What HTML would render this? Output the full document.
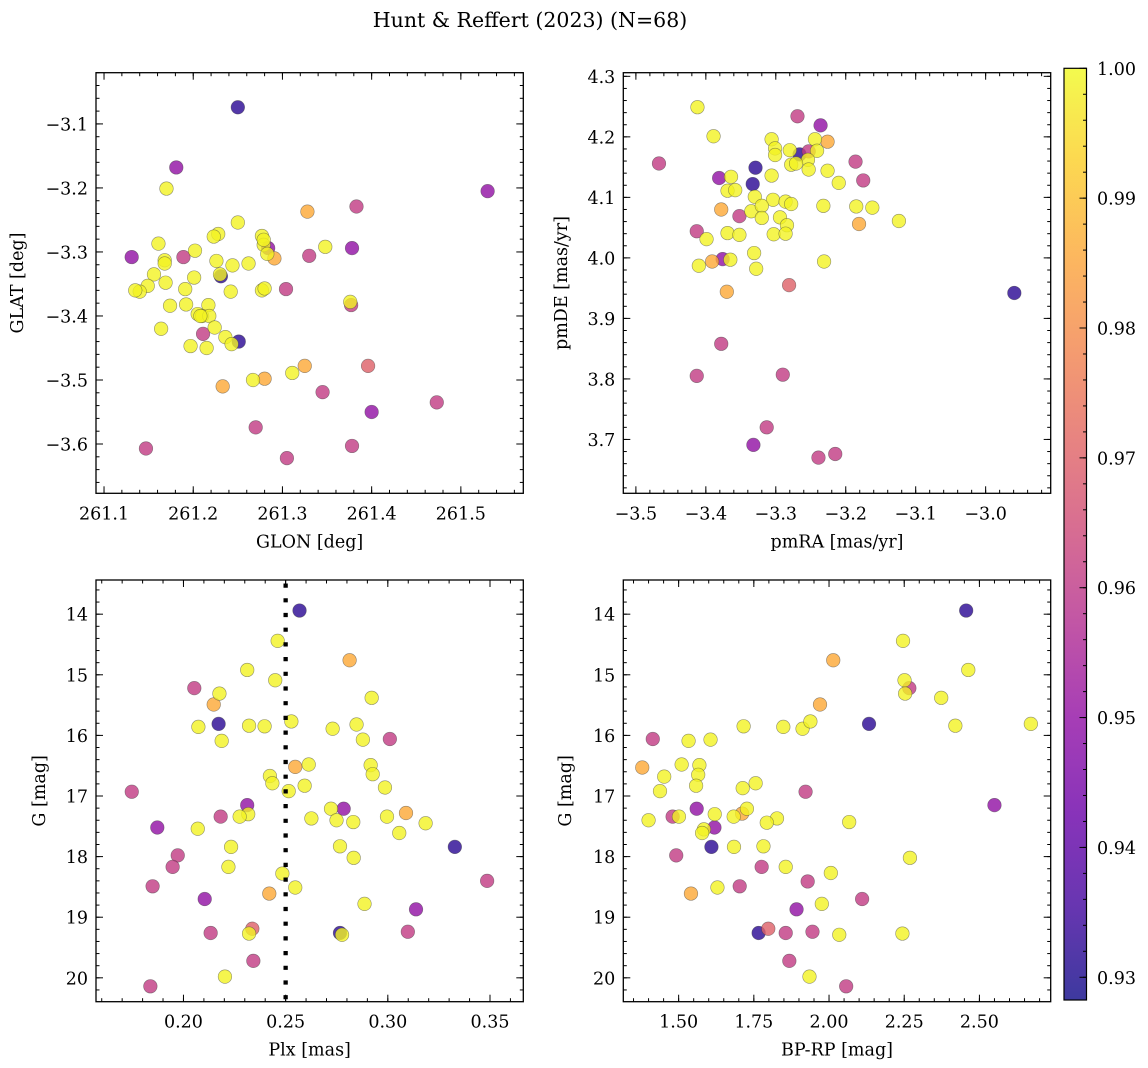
<!DOCTYPE html>
<html><head><meta charset="utf-8"><title>Hunt & Reffert (2023)</title>
<style>
html,body{margin:0;padding:0;background:#fff;}
svg{display:block;font-family:"DejaVu Serif","Liberation Serif",serif;}
</style></head>
<body>
<svg id="fig" width="1148" height="1068" viewBox="0 0 1148 1068" xmlns="http://www.w3.org/2000/svg">
<text x="530" y="27" font-size="20.5" text-anchor="middle">Hunt &amp; Reffert (2023) (N=68)</text>
</svg>
<script>
const D=0.932,M=0.95,P=0.961,S=0.97,O=0.986,Y=0.999;
// Panel 1: GLON / GLAT
const p1Glon=[261.250,261.181,261.170,261.530,261.383,261.328,261.250,261.277,261.228,261.223,261.161,261.348,261.202,261.131,261.189,261.279,261.284,261.279,261.378,261.330,261.291,261.283,261.168,261.168,261.226,261.244,261.262,261.231,261.230,261.156,261.169,261.201,261.149,261.140,261.135,261.191,261.242,261.304,261.277,261.280,261.174,261.192,261.217,261.376,261.377,261.205,261.210,261.218,261.208,261.164,261.224,261.211,261.236,261.251,261.243,261.197,261.215,261.325,261.396,261.311,261.267,261.280,261.233,261.345,261.473,261.400,261.270,261.147,261.378,261.305];
const p1Glat=[-3.074,-3.168,-3.201,-3.205,-3.229,-3.237,-3.254,-3.275,-3.272,-3.276,-3.287,-3.292,-3.298,-3.308,-3.308,-3.289,-3.294,-3.281,-3.294,-3.306,-3.310,-3.303,-3.313,-3.318,-3.314,-3.321,-3.318,-3.338,-3.335,-3.335,-3.348,-3.340,-3.353,-3.362,-3.360,-3.358,-3.362,-3.358,-3.360,-3.357,-3.384,-3.382,-3.383,-3.378,-3.383,-3.397,-3.400,-3.400,-3.400,-3.420,-3.418,-3.428,-3.433,-3.440,-3.444,-3.447,-3.450,-3.478,-3.478,-3.489,-3.500,-3.498,-3.510,-3.519,-3.535,-3.550,-3.574,-3.607,-3.603,-3.622];
const p1Prob=[D,M,Y,M,P,O,Y,Y,Y,Y,Y,Y,Y,M,P,Y,M,Y,M,P,O,Y,Y,Y,Y,Y,Y,D,Y,Y,Y,Y,Y,Y,Y,Y,Y,P,Y,Y,Y,Y,Y,Y,P,Y,Y,Y,Y,Y,Y,P,Y,D,Y,Y,Y,O,S,Y,Y,O,O,P,P,M,P,P,P,P];
// Panel 2: pmRA / pmDE
const p2PmRA=[-3.412,-3.269,-3.236,-3.389,-3.306,-3.226,-3.244,-3.467,-3.186,-3.266,-3.253,-3.280,-3.301,-3.301,-3.241,-3.254,-3.278,-3.271,-3.253,-3.226,-3.329,-3.381,-3.364,-3.306,-3.333,-3.175,-3.210,-3.369,-3.358,-3.330,-3.304,-3.286,-3.278,-3.232,-3.185,-3.162,-3.378,-3.335,-3.320,-3.352,-3.320,-3.294,-3.284,-3.124,-3.181,-3.413,-3.369,-3.352,-3.399,-3.303,-3.286,-3.331,-3.376,-3.391,-3.365,-3.410,-3.231,-3.328,-3.281,-3.370,-2.959,-3.378,-3.413,-3.290,-3.313,-3.332,-3.215,-3.239];
const p2PmDE=[4.249,4.234,4.219,4.201,4.196,4.192,4.196,4.156,4.159,4.171,4.176,4.178,4.181,4.170,4.177,4.162,4.154,4.156,4.146,4.144,4.149,4.132,4.134,4.136,4.122,4.128,4.124,4.111,4.112,4.101,4.096,4.093,4.089,4.086,4.085,4.083,4.080,4.077,4.086,4.069,4.066,4.067,4.054,4.061,4.056,4.044,4.041,4.038,4.031,4.039,4.040,4.008,3.998,3.994,3.997,3.987,3.994,3.982,3.955,3.944,3.942,3.858,3.805,3.807,3.720,3.691,3.676,3.670];
const p2Prob=[Y,P,M,Y,Y,O,Y,P,P,D,P,Y,Y,Y,Y,Y,Y,Y,Y,Y,D,M,Y,Y,D,P,Y,Y,Y,Y,Y,Y,Y,Y,Y,Y,O,Y,Y,P,Y,Y,Y,Y,O,P,Y,Y,Y,Y,Y,Y,M,O,Y,Y,Y,Y,S,O,D,P,P,P,P,M,P,P];
// Panel 3: Plx / G
const p3Plx=[.2568,.2461,.2813,.2312,.2449,.2053,.2176,.2148,.2921,.2172,.2073,.2321,.2397,.2528,.2730,.2847,.2187,.2878,.3010,.2547,.2613,.2916,.2423,.2435,.2926,.2593,.2515,.2986,.1747,.2312,.2784,.2722,.2317,.2275,.2182,.3089,.1872,.2070,.2626,.2749,.2831,.2996,.3185,.3056,.2233,.2766,.3328,.1972,.1947,.2220,.2833,.2484,.3486,.1849,.2547,.2420,.2104,.2886,.3138,.2337,.2321,.2133,.2766,.2776,.3098,.2342,.2203,.1838];
const p3G=[13.94,14.44,14.76,14.92,15.09,15.22,15.31,15.49,15.38,15.81,15.86,15.84,15.85,15.77,15.89,15.82,16.09,16.07,16.06,16.52,16.48,16.49,16.67,16.79,16.64,16.83,16.92,16.86,16.93,17.15,17.21,17.21,17.30,17.34,17.34,17.28,17.52,17.54,17.37,17.40,17.43,17.34,17.45,17.61,17.84,17.83,17.84,17.98,18.17,18.17,18.02,18.28,18.40,18.49,18.51,18.61,18.70,18.78,18.87,19.19,19.27,19.26,19.26,19.29,19.24,19.72,19.98,20.14];
const p3Prob=[D,Y,O,Y,Y,P,Y,O,Y,D,Y,Y,Y,Y,Y,Y,Y,Y,P,O,Y,Y,Y,Y,Y,Y,Y,Y,P,M,M,Y,Y,Y,P,O,M,Y,Y,Y,Y,Y,Y,Y,Y,Y,D,P,P,Y,Y,Y,P,P,Y,O,M,Y,M,S,Y,P,D,Y,P,P,Y,P];
const plxCut=[0.25];
// Panel 4: BP-RP / G
const p4BpRp=[2.456,2.246,2.014,2.463,2.251,2.267,2.253,1.970,2.373,2.133,2.420,2.671,1.716,1.848,1.912,1.938,1.414,1.533,1.606,1.379,1.510,1.569,1.565,1.452,1.558,1.756,1.713,1.438,1.922,1.560,2.550,1.727,1.711,1.480,1.501,1.620,1.683,1.400,1.827,1.793,2.067,1.619,1.584,1.578,1.609,1.684,1.782,1.492,2.269,1.776,1.856,2.006,1.929,1.541,1.629,1.703,2.110,1.976,1.892,1.798,1.766,1.856,1.945,2.034,2.244,1.868,1.935,2.057];
const p4G=[13.94,14.44,14.76,14.92,15.09,15.22,15.31,15.49,15.38,15.81,15.84,15.81,15.85,15.86,15.89,15.77,16.06,16.09,16.07,16.53,16.48,16.49,16.65,16.68,16.83,16.79,16.87,16.92,16.93,17.21,17.15,17.21,17.29,17.34,17.34,17.30,17.34,17.40,17.37,17.44,17.43,17.52,17.55,17.61,17.84,17.84,17.83,17.98,18.02,18.17,18.17,18.27,18.41,18.61,18.51,18.49,18.70,18.78,18.87,19.19,19.26,19.26,19.24,19.29,19.27,19.72,19.98,20.14];
const p4Prob=[D,Y,O,Y,Y,P,Y,O,Y,D,Y,Y,Y,Y,Y,Y,P,Y,Y,O,Y,Y,Y,Y,Y,Y,Y,Y,P,M,M,Y,O,P,Y,Y,Y,Y,Y,Y,Y,M,Y,Y,D,Y,Y,P,Y,P,Y,Y,P,O,Y,P,P,Y,M,S,D,P,P,Y,Y,P,Y,P];
// tick labels
const p1XTicks=[261.1,261.2,261.3,261.4,261.5];
const p1YTicks=[-3.1,-3.2,-3.3,-3.4,-3.5,-3.6];
const p2XTicks=[-3.5,-3.4,-3.3,-3.2,-3.1,-3.0];
const p2YTicks=[3.7,3.8,3.9,4.0,4.1,4.2,4.3];
const p3XTicks=[0.20,0.25,0.30,0.35];
const gTicks=[14,15,16,17,18,19,20];
const p4XTicks=[1.50,1.75,2.00,2.25,2.50];
const cbTicks=[0.93,0.94,0.95,0.96,0.97,0.98,0.99,1.00];
const cbMin=0.92825, cbMax=1.0;

const FS=17.5;
const NS='http://www.w3.org/2000/svg';
const fig=document.getElementById('fig');
function mk(tag,attrs,parent){const e=document.createElementNS(NS,tag);for(const k in attrs)e.setAttribute(k,attrs[k]);(parent||fig).appendChild(e);return e;}
const anchors=[[0,'#0d0887'],[0.1,'#41049d'],[0.2,'#6a00a8'],[0.3,'#8f0da4'],[0.4,'#b12a90'],[0.5,'#cc4778'],[0.6,'#e16462'],[0.7,'#f2844b'],[0.8,'#fca636'],[0.9,'#fcce25'],[1,'#f0f921']];
function hx(h){return[parseInt(h.substr(1,2),16),parseInt(h.substr(3,2),16),parseInt(h.substr(5,2),16)];}
function plasma(t){t=Math.max(0,Math.min(1,t));for(let i=1;i<anchors.length;i++){if(t<=anchors[i][0]){const a=anchors[i-1],b=anchors[i];const f=(t-a[0])/(b[0]-a[0]);const ca=hx(a[1]),cb=hx(b[1]);return 'rgb('+ca.map((v,j)=>Math.round(v+(cb[j]-v)*f)).join(',')+')';}}return anchors[10][1];}
function fmt(v,d){return (v<0?'\u2212':'')+Math.abs(v).toFixed(d);}

function panel(cfg){
  const g=mk('g',{});
  
  
  const {x0,y0,x1,y1}=cfg.box;
  const sx=v=>x0+(v-cfg.xlim[0])/(cfg.xlim[1]-cfg.xlim[0])*(x1-x0);
  const sy=v=>y0+(v-cfg.ylim[0])/(cfg.ylim[1]-cfg.ylim[0])*(y1-y0);
  const n=Math.min(cfg.xs.length,cfg.ys.length,cfg.ps.length);
  const idx=[];for(let i=0;i<n;i++)idx.push(i);
  idx.sort((a,b)=>cfg.ps[a]-cfg.ps[b]||a-b);
  const pg=mk('g',{},g);
  
  
  idx.forEach(i=>{
    const c=mk('circle',{cx:sx(cfg.xs[i]),cy:sy(cfg.ys[i]),r:6.8,fill:plasma((cfg.ps[i]-cbMin)/(cbMax-cbMin)),'fill-opacity':0.8,stroke:'rgba(60,60,60,0.55)','stroke-width':0.6},pg);
    
    
  });
  if(cfg.vline){cfg.vline.forEach(v=>{const l=mk('line',{x1:sx(v),x2:sx(v),y1:y0+3.5,y2:y1,stroke:'#000','stroke-width':4.3,'stroke-dasharray':'4.2 10.5'},g);
    
    });}
  const fr=mk('rect',{x:x0,y:y0,width:x1-x0,height:y1-y0,fill:'none',stroke:'#000','stroke-width':1.3},g);
  
  
  const tk=mk('g',{stroke:'#000','stroke-width':1},g);
  
  
  function xt(v,len){const x=sx(v);mk('line',{x1:x,x2:x,y1:y1,y2:y1-len},tk);mk('line',{x1:x,x2:x,y1:y0,y2:y0+len},tk);}
  function yt(v,len){const y=sy(v);mk('line',{x1:x0,x2:x0+len,y1:y,y2:y},tk);mk('line',{x1:x1,x2:x1-len,y1:y,y2:y},tk);}
  const xlo=Math.min(...cfg.xlim),xhi=Math.max(...cfg.xlim),ylo=Math.min(...cfg.ylim),yhi=Math.max(...cfg.ylim);
  for(let k=Math.ceil(xlo/cfg.xminor-1e-9);k*cfg.xminor<=xhi+1e-9;k++)xt(k*cfg.xminor,3.5);
  for(let k=Math.ceil(ylo/cfg.yminor-1e-9);k*cfg.yminor<=yhi+1e-9;k++)yt(k*cfg.yminor,3.5);
  cfg.xticks.forEach(v=>{xt(v,7);const t=mk('text',{x:sx(v),y:y1+26,'font-size':FS,'text-anchor':'middle'},g);t.textContent=fmt(v,cfg.xd);
    
    });
  cfg.yticks.forEach(v=>{yt(v,7);const t=mk('text',{x:x0-8,y:sy(v)+6.5,'font-size':FS,'text-anchor':'end'},g);t.textContent=fmt(v,cfg.yd);
    
    });
  const xl=mk('text',{x:(x0+x1)/2,y:y1+54,'font-size':FS,'text-anchor':'middle'},g);xl.textContent=cfg.xlabel;
  
  
  const yc=(y0+y1)/2;
  const yl=mk('text',{x:cfg.ylx,y:yc,'font-size':FS,'text-anchor':'middle','dominant-baseline':'central',transform:'rotate(-90 '+cfg.ylx+' '+yc+')'},g);yl.textContent=cfg.ylabel;
  
  
}
panel({name:'panel-glon-glat',box:{x0:96,y0:72.7,x1:523.3,y1:493.3},xlim:[261.091,261.570],ylim:[-3.020,-3.677],xs:p1Glon,ys:p1Glat,ps:p1Prob,xticks:p1XTicks,yticks:p1YTicks,xd:1,yd:1,xminor:0.02,yminor:0.02,xlabel:'GLON [deg]',ylabel:'GLAT [deg]',ylx:18});
panel({name:'panel-pmra-pmde',box:{x0:623.3,y0:72.7,x1:1050.7,y1:493.3},xlim:[-3.518,-2.907],ylim:[4.306,3.611],xs:p2PmRA,ys:p2PmDE,ps:p2Prob,xticks:p2XTicks,yticks:p2YTicks,xd:1,yd:1,xminor:0.02,yminor:0.02,xlabel:'pmRA [mas/yr]',ylabel:'pmDE [mas/yr]',ylx:562});
panel({name:'panel-plx-g',box:{x0:96,y0:580,x1:523.3,y1:1001.7},xlim:[0.1572,0.3663],ylim:[13.436,20.394],xs:p3Plx,ys:p3G,ps:p3Prob,xticks:p3XTicks,yticks:gTicks,xd:2,yd:0,xminor:0.01,yminor:0.2,xlabel:'Plx [mas]',ylabel:'G [mag]',ylx:40,vline:plxCut});
panel({name:'panel-bprp-g',box:{x0:623.3,y0:580,x1:1050.7,y1:1001.7},xlim:[1.316,2.737],ylim:[13.436,20.394],xs:p4BpRp,ys:p4G,ps:p4Prob,xticks:p4XTicks,yticks:gTicks,xd:2,yd:0,xminor:0.05,yminor:0.2,xlabel:'BP-RP [mag]',ylabel:'G [mag]',ylx:566});

(function(){
  const cx0=1064,cx1=1086.5,cy0=68.3,cy1=1000;
  const g=mk('g',{});
  
  
  const defs=mk('defs',{},g);
  const lg=mk('linearGradient',{id:'cbgrad',x1:0,y1:1,x2:0,y2:0},defs);
  for(let i=0;i<=20;i++){mk('stop',{offset:i/20,'stop-color':plasma(i/20),'stop-opacity':0.8},lg);}
  const r=mk('rect',{x:cx0,y:cy0,width:cx1-cx0,height:cy1-cy0,fill:'url(#cbgrad)',stroke:'#000','stroke-width':1.2},g);
  
  
  const sy=v=>cy1-(v-cbMin)/(cbMax-cbMin)*(cy1-cy0);
  for(let k=Math.ceil(cbMin/0.002);k*0.002<=cbMax+1e-9;k++){const y=sy(k*0.002);mk('line',{x1:cx1,x2:cx1-3.5,y1:y,y2:y,stroke:'#000','stroke-width':1},g);}
  cbTicks.forEach(v=>{const y=sy(v);mk('line',{x1:cx1,x2:cx1-7,y1:y,y2:y,stroke:'#000','stroke-width':1},g);
    const t=mk('text',{x:1097,y:y+6.5,'font-size':FS},g);t.textContent=v.toFixed(2);
    
    });
})();
</script>
</body></html>
